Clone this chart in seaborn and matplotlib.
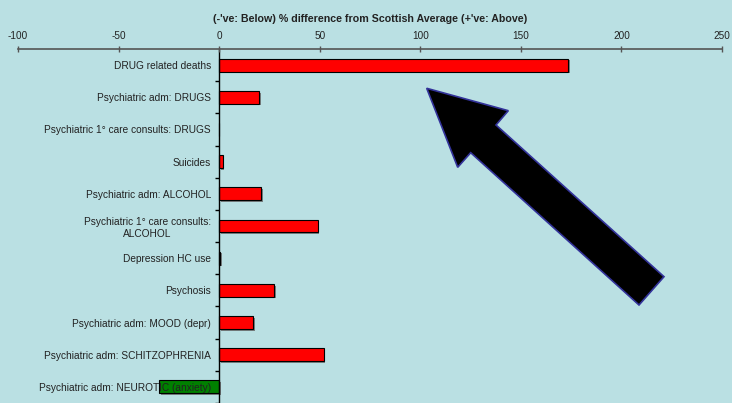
import matplotlib
matplotlib.use("Agg")
import matplotlib.pyplot as plt
import matplotlib.patheffects as pe
from matplotlib.patches import Polygon
from matplotlib.ticker import FixedLocator
import seaborn as sns
import pandas as pd
import numpy as np

categories = [
    "DRUG related deaths",
    "Psychiatric adm: DRUGS",
    "Psychiatric 1° care consults: DRUGS",
    "Suicides",
    "Psychiatric adm: ALCOHOL",
    "Psychiatric 1° care consults:\nALCOHOL",
    "Depression HC use",
    "Psychosis",
    "Psychiatric adm: MOOD (depr)",
    "Psychiatric adm: SCHITZOPHRENIA",
    "Psychiatric adm: NEUROTIC (anxiety)",
]
values = [173.5, 20.0, 0.0, 1.8, 21.0, 49.0, 0.6, 27.3, 17.0, 52.0, -29.7]
title = "(-'ve: Below) % difference from Scottish Average (+'ve: Above)"
xticks = [-100, -50, 0, 50, 100, 150, 200, 250]

BG = "#BAE0E3"
TXT = "#222222"

sns.set_theme(style="white")
plt.rcParams["font.family"] = ["Liberation Sans", "DejaVu Sans"]

df = pd.DataFrame({"cat": categories, "val": values})
colors = ["#FF0000" if v >= 0 else "#008000" for v in values]

fig = plt.figure(figsize=(7.32, 4.03), dpi=100, facecolor=BG)
ax = fig.add_axes([18 / 732, 0.0, 704 / 732, 1 - 49 / 403])
ax.set_facecolor(BG)

sns.barplot(data=df, y="cat", x="val", hue="cat", palette=colors, legend=False,
            orient="h", width=0.4, edgecolor="black", linewidth=0.8, ax=ax,
            saturation=1)
for p in ax.patches:
    p.set_zorder(1)
    p.set_path_effects([pe.SimplePatchShadow(offset=(1.2, -1.2), shadow_rgbFace="#666666", alpha=0.8),
                        pe.Normal()])

ax.set_axisbelow(False)
ax.yaxis.set_zorder(3)
ax.xaxis.set_zorder(3)

ax.set_xlim(-100, 250)
ax.set_ylim(len(categories) - 0.5, -0.5)
ax.xaxis.tick_top()
ax.xaxis.set_label_position("top")
ax.set_xticks(xticks)
ax.set_xticklabels([str(t) for t in xticks], fontsize=7.2, color=TXT)
ax.tick_params(axis="x", direction="inout", length=4, width=1, color="#555555", pad=4)
ax.set_xlabel(title, fontsize=7.7, fontweight="bold", color=TXT, labelpad=6)
ax.set_ylabel("")

for s in ["right", "bottom"]:
    ax.spines[s].set_visible(False)
ax.spines["top"].set_color("#555555")
ax.spines["top"].set_linewidth(1.2)
ax.spines["left"].set_position(("data", 0))
ax.spines["left"].set_color("black")
ax.spines["left"].set_linewidth(1.0)
for s in ax.spines.values():
    s.set_zorder(3)

ax.yaxis.set_major_locator(FixedLocator(np.arange(len(categories))))
ax.set_yticklabels(categories, fontsize=7.25, color=TXT)
for lbl in ax.get_yticklabels():
    lbl.set_multialignment("center")
ax.yaxis.set_minor_locator(FixedLocator(np.arange(len(categories)) + 0.5))
ax.tick_params(axis="y", which="major", length=0, pad=6)
ax.tick_params(axis="y", which="minor", length=3, width=1, color="black", direction="out", left=True)

# decorative arrow pointing at the top bar (figure pixel coordinates)
arrow_px = [(426.7, 88.3), (508.3, 110.7), (496, 125), (664, 276.7),
            (639, 305), (470.7, 152.7), (457.7, 167.3)]
arrow_fig = [(x / 732, 1 - y / 403) for x, y in arrow_px]
fig.patches.append(Polygon(arrow_fig, closed=True, facecolor="black", edgecolor="#33339A",
                           linewidth=1.2, transform=fig.transFigure, zorder=5))

fig.savefig("out.png", dpi=100, facecolor=BG)
